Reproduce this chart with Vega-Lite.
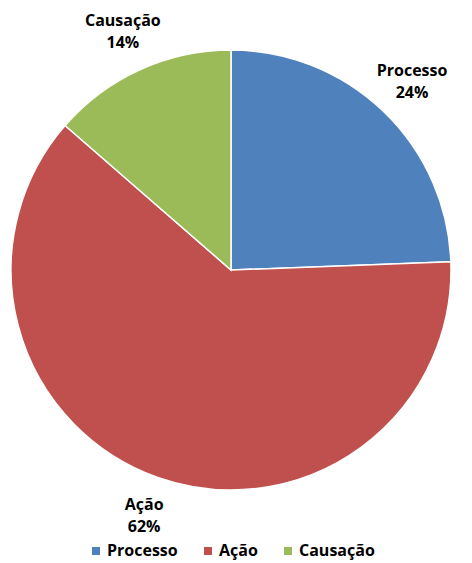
{
  "$schema": "https://vega.github.io/schema/vega-lite/v6.json",
  "width": 462,
  "height": 540,
  "padding": {"left": 0, "top": 0, "right": 10, "bottom": 23},
  "autosize": "none",
  "background": "white",
  "config": {"view": {"stroke": null}, "font": "Open Sans"},
  "data": {
    "values": [
      {"categoria": "Processo", "valor": 0.244, "ordem": 1},
      {"categoria": "Ação", "valor": 0.62, "ordem": 2},
      {"categoria": "Causação", "valor": 0.136, "ordem": 3}
    ]
  },
  "encoding": {
    "theta": {"field": "valor", "type": "quantitative", "stack": true},
    "order": {"field": "ordem", "type": "quantitative"}
  },
  "layer": [
    {
      "mark": {"type": "arc", "radius": 220, "stroke": "white", "strokeWidth": 1.5},
      "encoding": {
        "color": {
          "field": "categoria",
          "type": "nominal",
          "scale": {"domain": ["Processo", "Ação", "Causação"], "range": ["#4F81BD", "#C0504D", "#9BBB59"]},
          "legend": {
            "title": null,
            "orient": "none",
            "legendX": 88,
            "legendY": 543,
            "direction": "horizontal",
            "symbolType": "square",
            "symbolSize": 64,
            "symbolStrokeWidth": 0,
            "labelFont": "Open Sans",
            "labelFontSize": 16,
            "labelFontWeight": "bold",
            "labelColor": "#000000",
            "labelOffset": 3,
            "columnPadding": 22
          }
        }
      }
    },
    {
      "mark": {"type": "text", "radius": 261, "dy": -11, "font": "Open Sans", "fontSize": 16, "fontWeight": "bold", "color": "#000000"},
      "encoding": {"text": {"field": "categoria", "type": "nominal"}}
    },
    {
      "mark": {"type": "text", "radius": 261, "dy": 11, "font": "Open Sans", "fontSize": 16, "fontWeight": "bold", "color": "#000000"},
      "encoding": {"text": {"field": "valor", "type": "quantitative", "format": ".0%"}}
    }
  ]
}
